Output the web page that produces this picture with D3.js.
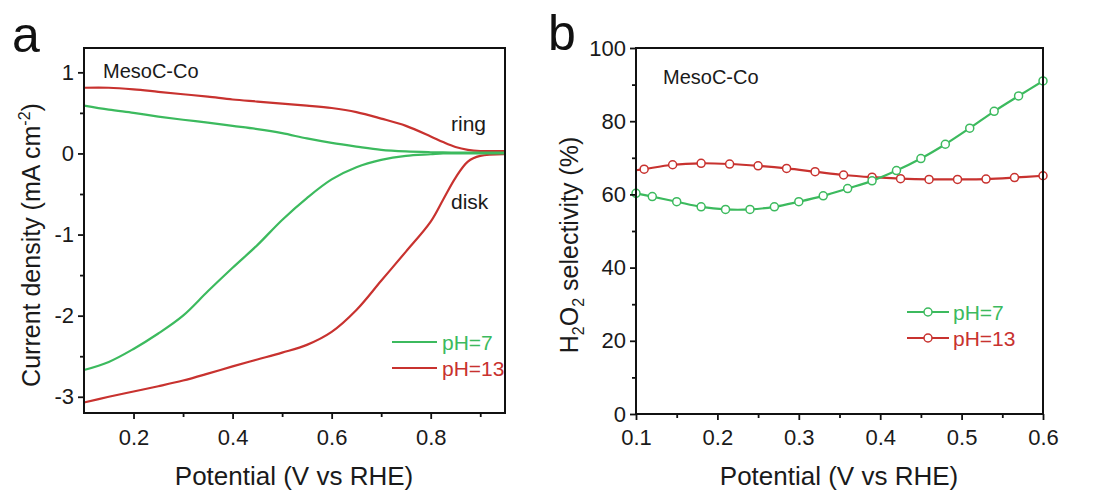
<!DOCTYPE html>
<html>
<head>
<meta charset="utf-8">
<script src="https://cdn.jsdelivr.net/npm/d3@7"></script>
<style>
  body { margin: 0; background: #fff; }
  svg { font-family: Arial, "Liberation Sans", sans-serif; }
</style>
</head>
<body>
<div id="chart"></div>
<script>
// ---- data ----
// panel a: RRDE ring / disk currents
var potA = [0.10, 0.15, 0.20, 0.25, 0.30, 0.35, 0.40, 0.45, 0.50, 0.55, 0.60, 0.65, 0.70, 0.75, 0.80, 0.825, 0.85, 0.875, 0.90, 0.95];
var ringPH7 = [0.59, 0.54, 0.50, 0.455, 0.415, 0.38, 0.34, 0.30, 0.25, 0.185, 0.13, 0.085, 0.045, 0.025, 0.015, 0.012, 0.01, 0.01, 0.01, 0.01];
var ringPH13 = [0.81, 0.81, 0.79, 0.76, 0.73, 0.70, 0.665, 0.64, 0.615, 0.59, 0.56, 0.51, 0.43, 0.34, 0.21, 0.14, 0.08, 0.045, 0.03, 0.03];
var diskPH7 = [-2.67, -2.57, -2.41, -2.22, -2.00, -1.70, -1.41, -1.13, -0.82, -0.55, -0.32, -0.17, -0.08, -0.03, -0.01, 0, 0, 0, 0, 0];
var diskPH13 = [-3.07, -3.00, -2.935, -2.87, -2.80, -2.715, -2.625, -2.54, -2.455, -2.36, -2.20, -1.93, -1.57, -1.21, -0.84, -0.57, -0.30, -0.10, -0.03, -0.01];

// panel b: H2O2 selectivity
var potB7 = [0.10, 0.12, 0.15, 0.18, 0.21, 0.24, 0.27, 0.30, 0.33, 0.36, 0.39, 0.42, 0.45, 0.48, 0.51, 0.54, 0.57, 0.60];
var selPH7 = [60.3, 59.4, 58.0, 56.6, 55.9, 55.9, 56.6, 58.0, 59.6, 61.6, 63.7, 66.5, 69.8, 73.7, 78.1, 82.7, 86.9, 91.0];
// first red point (0.10) is where the line starts, it has no marker
var potB13 = [0.10, 0.11, 0.145, 0.18, 0.215, 0.25, 0.285, 0.32, 0.355, 0.39, 0.425, 0.46, 0.495, 0.53, 0.565, 0.60];
var selPH13 = [66.6, 66.9, 68.1, 68.5, 68.3, 67.8, 67.1, 66.2, 65.3, 64.7, 64.3, 64.1, 64.1, 64.2, 64.6, 65.1];

var xTicksA = [0.2, 0.4, 0.6, 0.8];
var xMinorA = [0.3, 0.5, 0.7, 0.9];
var yTicksA = [-3, -2, -1, 0, 1];
var yMinorA = [-2.5, -1.5, -0.5, 0.5];
var xTicksB = [0.1, 0.2, 0.3, 0.4, 0.5, 0.6];
var xMinorB = [0.15, 0.25, 0.35, 0.45, 0.55];
var yTicksB = [0, 20, 40, 60, 80, 100];
var yMinorB = [10, 30, 50, 70, 90];

var green = '#3cba5e',
    red = '#c8322f',
    ink = '#1a1a1a';

var width = 1096,
    height = 490;

var svg = d3.select('#chart').append('svg')
    .attr('width', width)
    .attr('height', height);

// draws box, ticks and labels for one panel
function frame(g, x, y, opts) {
    var x0 = x.range()[0], x1 = x.range()[1],
        y0 = y.range()[0], y1 = y.range()[1];

    g.append('g')
        .attr('transform', 'translate(0,' + y0 + ')')
        .call(d3.axisBottom(x).tickValues(opts.xTicks).tickSize(6).tickPadding(opts.xPad).tickFormat(d3.format('.1f')));
    g.append('g')
        .attr('transform', 'translate(0,' + y0 + ')')
        .call(d3.axisBottom(x).tickValues(opts.xMinor).tickSize(4).tickFormat(''));
    g.append('g')
        .attr('transform', 'translate(' + x0 + ',0)')
        .call(d3.axisLeft(y).tickValues(opts.yTicks).tickSize(6).tickPadding(4).tickFormat(function(d) { return String(d); }));
    g.append('g')
        .attr('transform', 'translate(' + x0 + ',0)')
        .call(d3.axisLeft(y).tickValues(opts.yMinor).tickSize(4).tickFormat(''));

    g.selectAll('.domain').remove();
    g.selectAll('.tick line').attr('stroke', '#111').attr('stroke-width', 1.8);
    g.selectAll('.tick text')
        .attr('font-size', 22)
        .attr('fill', ink)
        .attr('font-family', 'Arial, "Liberation Sans", sans-serif');

    g.append('rect')
        .attr('x', x0)
        .attr('y', y1)
        .attr('width', x1 - x0)
        .attr('height', y0 - y1)
        .attr('fill', 'none')
        .attr('stroke', '#111')
        .attr('stroke-width', 2);
}

// ---------- panel a ----------
var xa = d3.scaleLinear().domain([0.1, 0.95]).range([84, 505]);
var ya = d3.scaleLinear().domain([-3.2, 1.3]).range([413, 48]);
var ga = svg.append('g');

var lineA = d3.line()
    .x(function(d) { return xa(d[0]); })
    .y(function(d) { return ya(d[1]); })
    .curve(d3.curveCatmullRom.alpha(0.5));

var curvesA = [
    { v: ringPH13, c: red },
    { v: diskPH13, c: red },
    { v: ringPH7, c: green },
    { v: diskPH7, c: green }
];
ga.selectAll('path.curve')
    .data(curvesA)
    .enter().append('path')
    .attr('class', 'curve')
    .attr('d', function(d) { return lineA(potA.map(function(p, i) { return [p, d.v[i]]; })); })
    .attr('fill', 'none')
    .attr('stroke', function(d) { return d.c; })
    .attr('stroke-width', 2.2);

frame(ga, xa, ya, { xTicks: xTicksA, xMinor: xMinorA, yTicks: yTicksA, yMinor: yMinorA, xPad: 10 });

ga.append('text').attr('x', 103).attr('y', 78).attr('font-size', 20).attr('fill', ink).text('MesoC-Co');
ga.append('text').attr('x', 451).attr('y', 131).attr('font-size', 21).attr('fill', ink).text('ring');
ga.append('text').attr('x', 451).attr('y', 209).attr('font-size', 21).attr('fill', ink).text('disk');

// legend a
var legA = [{ t: 'pH=7', c: green }, { t: 'pH=13', c: red }];
var la = ga.selectAll('g.leg').data(legA).enter().append('g')
    .attr('transform', function(d, i) { return 'translate(392,' + (342 + i * 26) + ')'; });
la.append('line').attr('x1', 0).attr('x2', 45).attr('stroke', function(d) { return d.c; }).attr('stroke-width', 2.2);
la.append('text').attr('x', 50).attr('y', 8).attr('font-size', 21).attr('fill', function(d) { return d.c; }).text(function(d) { return d.t; });

ga.append('text')
    .attr('x', 294).attr('y', 485)
    .attr('text-anchor', 'middle')
    .attr('font-size', 26)
    .attr('fill', ink)
    .text('Potential (V vs RHE)');

var ta = ga.append('text')
    .attr('transform', 'translate(40,245) rotate(-90)')
    .attr('text-anchor', 'middle')
    .attr('font-size', 25)
    .attr('fill', ink);
ta.append('tspan').text('Current density (mA cm');
ta.append('tspan').attr('font-size', 16).attr('dy', -10).text('-2');
ta.append('tspan').attr('dy', 10).text(')');

svg.append('text').attr('x', 12).attr('y', 52).attr('font-size', 50).attr('fill', '#111').text('a');

// ---------- panel b ----------
var xb = d3.scaleLinear().domain([0.1, 0.6]).range([636, 1043]);
var yb = d3.scaleLinear().domain([0, 100]).range([414, 48]);
var gb = svg.append('g');

var lineB = d3.line()
    .x(function(d) { return xb(d[0]); })
    .y(function(d) { return yb(d[1]); })
    .curve(d3.curveCatmullRom.alpha(0.5));

var seriesB = [
    { p: potB13, v: selPH13, c: red, skip: 1 },
    { p: potB7, v: selPH7, c: green, skip: 0 }
];

seriesB.forEach(function(s) {
    var pts = s.p.map(function(p, i) { return [p, s.v[i]]; });
    gb.append('path')
        .attr('d', lineB(pts))
        .attr('fill', 'none')
        .attr('stroke', s.c)
        .attr('stroke-width', 2.2);
    gb.selectAll(null)
        .data(pts.slice(s.skip))
        .enter().append('circle')
        .attr('cx', function(d) { return xb(d[0]); })
        .attr('cy', function(d) { return yb(d[1]); })
        .attr('r', 4)
        .attr('fill', '#fff')
        .attr('stroke', s.c)
        .attr('stroke-width', 1.5);
});

frame(gb, xb, yb, { xTicks: xTicksB, xMinor: xMinorB, yTicks: yTicksB, yMinor: yMinorB, xPad: 9 });

gb.append('text').attr('x', 663).attr('y', 84).attr('font-size', 20).attr('fill', ink).text('MesoC-Co');

// legend b
var legB = [{ t: 'pH=7', c: green }, { t: 'pH=13', c: red }];
var lb = gb.selectAll('g.leg').data(legB).enter().append('g')
    .attr('transform', function(d, i) { return 'translate(907,' + (312 + i * 26) + ')'; });
lb.append('line').attr('x1', 0).attr('x2', 42).attr('stroke', function(d) { return d.c; }).attr('stroke-width', 2.2);
lb.append('circle').attr('cx', 21).attr('r', 4).attr('fill', '#fff').attr('stroke', function(d) { return d.c; }).attr('stroke-width', 1.5);
lb.append('text').attr('x', 46).attr('y', 8).attr('font-size', 21).attr('fill', function(d) { return d.c; }).text(function(d) { return d.t; });

gb.append('text')
    .attr('x', 839).attr('y', 485)
    .attr('text-anchor', 'middle')
    .attr('font-size', 26)
    .attr('fill', ink)
    .text('Potential (V vs RHE)');

var tb = gb.append('text')
    .attr('transform', 'translate(578,245) rotate(-90)')
    .attr('text-anchor', 'middle')
    .attr('font-size', 25)
    .attr('fill', ink);
tb.append('tspan').text('H');
tb.append('tspan').attr('font-size', 16).attr('dy', 6).text('2');
tb.append('tspan').attr('dy', -6).text('O');
tb.append('tspan').attr('font-size', 16).attr('dy', 6).text('2');
tb.append('tspan').attr('dy', -6).text(' selectivity (%)');

svg.append('text').attr('x', 548).attr('y', 50).attr('font-size', 50).attr('fill', '#111').text('b');
</script>
</body>
</html>
